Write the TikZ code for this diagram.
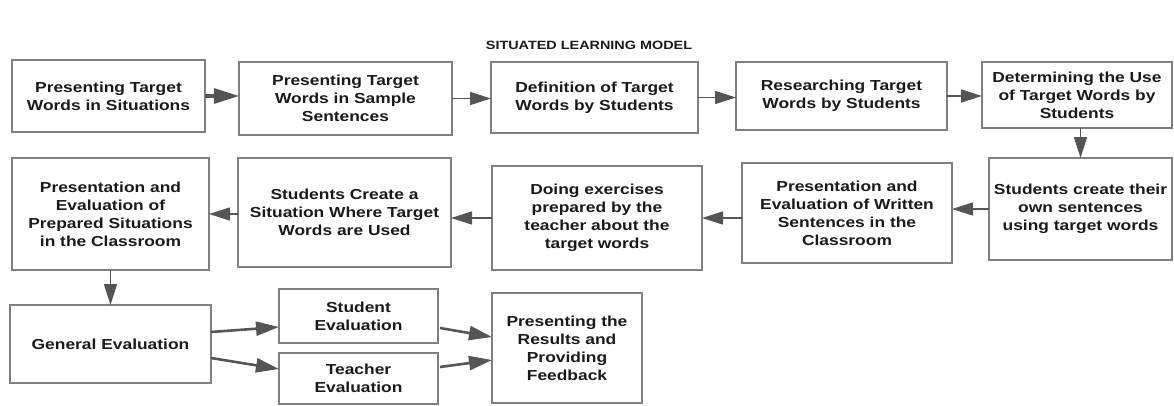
\documentclass[tikz,border=0pt]{standalone}
\usepackage{fontspec}
\setmainfont{Liberation Sans}[FakeStretch=1.2]
\usetikzlibrary{arrows.meta}
\definecolor{boxline}{HTML}{808080}
\definecolor{arrowc}{HTML}{555555}
\definecolor{txt}{HTML}{1A1A1A}
\begin{document}
\begin{tikzpicture}[x=1pt,y=-1pt,
  box/.style={draw=boxline,line width=1.3pt,fill=white,inner sep=0pt,outer sep=0pt,
    align=center,text=txt,font=\fontsize{14.5}{18}\selectfont\bfseries},
  arr/.style={draw=arrowc,line width=1.6pt,-{Triangle[length=21pt,width=13pt]},color=arrowc},
  arrthick/.style={draw=arrowc,line width=3.2pt,-{Triangle[length=25pt,width=15pt]},color=arrowc},
  arrmid/.style={draw=arrowc,line width=2.6pt,-{Triangle[length=23pt,width=14pt]},color=arrowc}]
\useasboundingbox (0,0) rectangle (1174,405);
\node[text=txt,font=\fontsize{12}{14}\selectfont\bfseries] (title) at (589,45) {SITUATED LEARNING MODEL};
% row 1
\node[box,minimum width=193pt,minimum height=72pt] (A) at (108.5,96) {Presenting Target\\Words in Situations};
\node[box,minimum width=213pt,minimum height=73pt] (B) at (345.5,98.5) {Presenting Target\\Words in Sample\\Sentences};
\node[box,minimum width=207pt,minimum height=71pt] (C) at (594.5,97.5) {Definition of Target\\Words by Students};
\node[box,minimum width=211pt,minimum height=68pt] (D) at (841.5,96) {Researching Target\\Words by Students};
\node[box,minimum width=190pt,minimum height=66pt] (E) at (1077,95) {Determining the Use\\of Target Words by\\Students};
% row 2
\node[box,minimum width=183pt,minimum height=102pt] (J) at (1080.5,209) {Students create their\\own sentences\\using target words};
\node[box,minimum width=210pt,minimum height=100pt] (I) at (847,213) {Presentation and\\Evaluation of Written\\Sentences in the\\Classroom};
\node[box,minimum width=210pt,minimum height=104pt] (H) at (597,218) {Doing exercises\\prepared by the\\teacher about the\\target words};
\node[box,minimum width=213pt,minimum height=109pt] (G) at (344.5,212.5) {Students Create a\\Situation Where Target\\Words are Used};
\node[box,minimum width=197pt,minimum height=112pt] (F) at (110.5,214) {Presentation and\\Evaluation of\\Prepared Situations\\in the Classroom};
% row 3
\node[box,minimum width=201pt,minimum height=78pt] (K) at (110.5,344) {General Evaluation};
\node[box,minimum width=159pt,minimum height=54pt] (L) at (358.5,316) {Student\\Evaluation};
\node[box,minimum width=159pt,minimum height=51pt] (M) at (358.5,378.5) {Teacher\\Evaluation};
\node[box,minimum width=150pt,minimum height=110pt] (N) at (567,348) {Presenting the\\Results and\\Providing\\Feedback};
% connectors
\draw[arrthick] (A.east) -- (A.east -| B.west);
\draw[arr] (B.east) -- (B.east -| C.west);
\draw[arr] (C.east) -- (C.east -| D.west);
\draw[arr] (D.east) -- (D.east -| E.west);
\draw[arr] (J.north |- E.south) -- (J.north);
\draw[arr] (J.west) -- (J.west -| I.east);
\draw[arr] (I.west |- H.east) -- (H.east);
\draw[arr] (H.west) -- (H.west -| G.east);
\draw[arr] (G.west |- F.east) -- (F.east);
\draw[arr] (F.south) -- (K.north);
\draw[arrmid] ([yshift=12pt]K.east) -- ([yshift=-11pt]L.west);
\draw[arrmid] ([yshift=-14pt]K.east) -- ([yshift=9.5pt]M.west);
\draw[arrmid] ([xshift=2pt,yshift=-12pt]L.east) -- ([yshift=11pt]N.west);
\draw[arrmid] ([xshift=2pt,yshift=11.5pt]M.east) -- ([yshift=-12pt]N.west);
\end{tikzpicture}
\end{document}
